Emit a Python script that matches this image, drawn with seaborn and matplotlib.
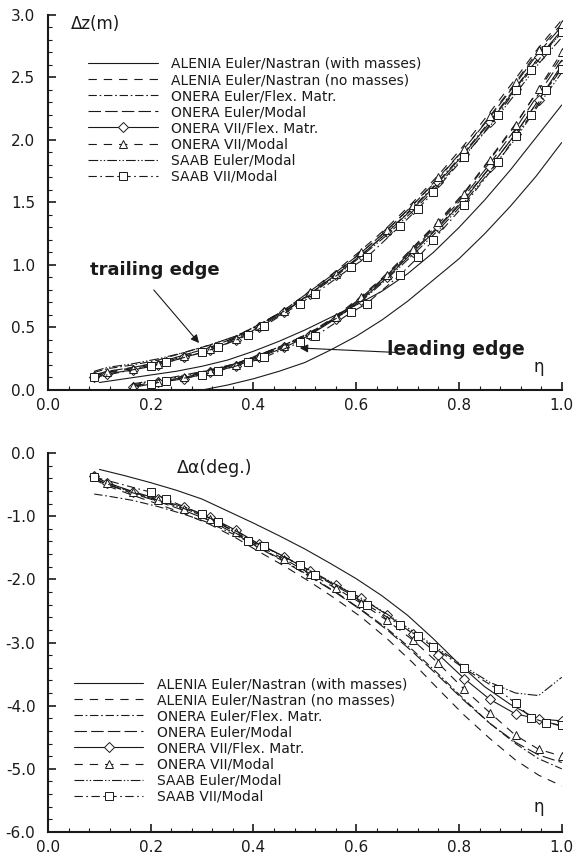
import matplotlib
matplotlib.use("Agg")
import matplotlib.pyplot as plt
from matplotlib.ticker import MultipleLocator, FormatStrFormatter
import seaborn as sns

sns.set_theme(style="ticks", rc={"text.color": "k", "axes.edgecolor": "k", "axes.labelcolor": "k",
                                 "xtick.color": "k", "ytick.color": "k"})
plt.rcParams['font.family'] = ['DejaVu Sans']
plt.rcParams['axes.unicode_minus'] = False
plt.rcParams['lines.scale_dashes'] = False

# ---- data ----
labels = ["ALENIA Euler/Nastran (with masses)", "ALENIA Euler/Nastran (no masses)",
          "ONERA Euler/Flex. Matr.", "ONERA Euler/Modal", "ONERA VII/Flex. Matr.",
          "ONERA VII/Modal", "SAAB Euler/Modal", "SAAB VII/Modal"]

eta = [0.09, 0.115, 0.165, 0.215, 0.265, 0.315, 0.365, 0.41, 0.46, 0.51,
       0.56, 0.61, 0.66, 0.71, 0.76, 0.81, 0.86, 0.91, 0.955, 1.0]
eta_le = eta[2:]
eta_sq = [0.09, 0.2, 0.23, 0.3, 0.33, 0.39, 0.42, 0.49, 0.52, 0.59,
          0.62, 0.685, 0.72, 0.75, 0.81, 0.875, 0.91, 0.94, 0.97, 1.0]
eta_sq_le = eta_sq[1:]
eta_al = [0.1, 0.15, 0.2, 0.25, 0.3, 0.35, 0.4, 0.45, 0.5, 0.55,
          0.6, 0.65, 0.7, 0.75, 0.8, 0.85, 0.9, 0.95, 1.0]
eta_al_le = eta_al[4:]

# trailing edge deflection dz (m)
dz_te_alenia_m = [0.06, 0.09, 0.12, 0.15, 0.19, 0.24, 0.31, 0.39, 0.48, 0.58, 0.68, 0.79, 0.93, 1.10, 1.30, 1.52, 1.76, 2.02, 2.28]
dz_te_alenia_nm = [0.11, 0.14, 0.18, 0.22, 0.28, 0.34, 0.42, 0.52, 0.64, 0.79, 0.95, 1.12, 1.30, 1.50, 1.72, 1.96, 2.22, 2.49, 2.74, 2.96]
dz_te_onera_ef = [0.14, 0.17, 0.20, 0.24, 0.30, 0.36, 0.43, 0.52, 0.63, 0.77, 0.92, 1.08, 1.26, 1.46, 1.67, 1.90, 2.15, 2.42, 2.66, 2.86]
dz_te_onera_em = [0.12, 0.15, 0.18, 0.22, 0.28, 0.34, 0.42, 0.52, 0.64, 0.79, 0.94, 1.10, 1.28, 1.48, 1.69, 1.93, 2.18, 2.45, 2.70, 2.91]
dz_te_onera_vf = [0.10, 0.13, 0.16, 0.20, 0.26, 0.32, 0.40, 0.50, 0.62, 0.77, 0.92, 1.08, 1.26, 1.45, 1.66, 1.89, 2.14, 2.41, 2.66, 2.88]
dz_te_onera_vm = [0.12, 0.14, 0.17, 0.21, 0.27, 0.33, 0.41, 0.51, 0.63, 0.78, 0.93, 1.10, 1.28, 1.48, 1.70, 1.93, 2.19, 2.46, 2.72, 2.93]
dz_te_saab_em = [0.15, 0.18, 0.21, 0.25, 0.30, 0.36, 0.43, 0.52, 0.63, 0.76, 0.91, 1.07, 1.24, 1.43, 1.64, 1.87, 2.11, 2.37, 2.61, 2.82]
dz_te_saab_vm = [0.10, 0.19, 0.22, 0.30, 0.34, 0.44, 0.51, 0.69, 0.77, 0.98, 1.06, 1.31, 1.45, 1.58, 1.86, 2.20, 2.40, 2.56, 2.72, 2.86]

# leading edge deflection dz (m)
dz_le_alenia_m = [0.0, 0.04, 0.09, 0.15, 0.22, 0.32, 0.43, 0.56, 0.71, 0.88, 1.05, 1.25, 1.47, 1.71, 1.98]
dz_le_alenia_nm = [0.03, 0.07, 0.11, 0.15, 0.21, 0.28, 0.36, 0.46, 0.59, 0.75, 0.93, 1.14, 1.35, 1.58, 1.85, 2.13, 2.40, 2.67]
dz_le_onera_ef = [0.04, 0.08, 0.11, 0.16, 0.21, 0.28, 0.36, 0.46, 0.58, 0.73, 0.91, 1.11, 1.31, 1.53, 1.78, 2.05, 2.32, 2.58]
dz_le_onera_em = [0.03, 0.07, 0.10, 0.15, 0.20, 0.27, 0.35, 0.45, 0.58, 0.74, 0.92, 1.12, 1.33, 1.55, 1.81, 2.09, 2.37, 2.64]
dz_le_onera_vf = [0.02, 0.06, 0.09, 0.14, 0.19, 0.26, 0.34, 0.44, 0.57, 0.72, 0.90, 1.10, 1.30, 1.52, 1.78, 2.05, 2.32, 2.60]
dz_le_onera_vm = [0.03, 0.06, 0.10, 0.15, 0.20, 0.27, 0.35, 0.45, 0.58, 0.74, 0.92, 1.13, 1.34, 1.57, 1.84, 2.12, 2.41, 2.70]
dz_le_saab_em = [0.05, 0.08, 0.12, 0.16, 0.21, 0.28, 0.36, 0.45, 0.57, 0.71, 0.89, 1.08, 1.28, 1.50, 1.75, 2.01, 2.28, 2.54]
dz_le_saab_vm = [0.05, 0.07, 0.12, 0.15, 0.22, 0.26, 0.38, 0.43, 0.62, 0.69, 0.92, 1.06, 1.20, 1.48, 1.82, 2.03, 2.20, 2.40, 2.57]

# twist da (deg.)
da_alenia_m = [-0.26, -0.36, -0.47, -0.59, -0.73, -0.92, -1.11, -1.31, -1.52, -1.75, -1.99, -2.26, -2.57, -2.94, -3.34, -3.70, -3.98, -4.20, -4.33]
da_alenia_nm = [-0.42, -0.52, -0.67, -0.81, -0.96, -1.13, -1.34, -1.56, -1.79, -2.04, -2.31, -2.60, -2.94, -3.32, -3.74, -4.15, -4.52, -4.86, -5.10, -5.27]
da_onera_ef = [-0.65, -0.68, -0.75, -0.85, -0.97, -1.11, -1.30, -1.49, -1.71, -1.95, -2.20, -2.48, -2.78, -3.12, -3.50, -3.90, -4.28, -4.60, -4.84, -5.00]
da_onera_em = [-0.40, -0.50, -0.64, -0.77, -0.91, -1.07, -1.28, -1.50, -1.72, -1.96, -2.21, -2.49, -2.80, -3.15, -3.53, -3.92, -4.28, -4.58, -4.78, -4.90]
da_onera_vf = [-0.37, -0.47, -0.61, -0.73, -0.86, -1.01, -1.22, -1.44, -1.64, -1.87, -2.09, -2.30, -2.56, -2.86, -3.19, -3.57, -3.90, -4.13, -4.21, -4.24]
da_onera_vm = [-0.37, -0.47, -0.62, -0.75, -0.88, -1.04, -1.25, -1.47, -1.68, -1.91, -2.14, -2.38, -2.65, -2.96, -3.33, -3.74, -4.11, -4.47, -4.69, -4.80]
da_saab_em = [-0.40, -0.49, -0.63, -0.75, -0.88, -1.03, -1.23, -1.44, -1.64, -1.86, -2.08, -2.30, -2.55, -2.82, -3.10, -3.38, -3.63, -3.80, -3.84, -3.55]
da_saab_vm = [-0.38, -0.62, -0.73, -0.97, -1.09, -1.39, -1.48, -1.78, -1.93, -2.24, -2.40, -2.72, -2.90, -3.07, -3.41, -3.74, -3.96, -4.19, -4.27, -4.31]

# line styles per method (same order as labels)
styles = [
    dict(linestyle="-", marker=""),
    dict(linestyle=(0, (6, 5)), marker=""),
    dict(linestyle=(0, (6, 2, 1.2, 2)), marker=""),
    dict(linestyle=(0, (9, 3)), marker=""),
    dict(linestyle="-", marker="D", markersize=5),
    dict(linestyle=(0, (6, 5)), marker="^", markersize=6),
    dict(linestyle=(0, (7, 1.5, 1, 1.5, 1, 1.5)), marker=""),
    dict(linestyle=(0, (6, 2.5, 1.2, 2.5)), marker="s", markersize=5.5),
]


def draw(ax, x, y, st):
    sns.lineplot(x=x, y=y, ax=ax, color="k", lw=0.8, estimator=None, sort=False,
                 markerfacecolor="white", markeredgecolor="k", markeredgewidth=0.7, **st)
    return ax.lines[-1]


def style_axes(ax, ylo, yhi, ymaj, ymin):
    ax.set_xlim(0, 1)
    ax.set_ylim(ylo, yhi)
    sns.despine(ax=ax)
    for s in ["left", "bottom"]:
        ax.spines[s].set_linewidth(1.5)
    ax.xaxis.set_major_locator(MultipleLocator(0.2))
    ax.xaxis.set_minor_locator(MultipleLocator(0.04))
    ax.yaxis.set_major_locator(MultipleLocator(ymaj))
    ax.yaxis.set_minor_locator(MultipleLocator(ymin))
    ax.xaxis.set_major_formatter(FormatStrFormatter("%.1f"))
    ax.yaxis.set_major_formatter(FormatStrFormatter("%.1f"))
    ax.tick_params(which="major", direction="in", length=6, width=1.2, labelsize=11)
    ax.tick_params(axis="x", which="major", pad=6)
    ax.tick_params(axis="y", which="major", pad=9)
    ax.tick_params(which="minor", direction="in", length=3, width=0.8)
    ax.set_xlabel("")
    ax.set_ylabel("")


fig = plt.figure(figsize=(5.76, 8.56), dpi=100)
ax1 = fig.add_axes([0.0833, 0.5444, 0.892, 0.4381])
ax2 = fig.add_axes([0.0833, 0.028, 0.892, 0.4428])

leg_kw = dict(loc="upper left", frameon=False, fontsize=10, handlelength=5.0,
              handletextpad=1.0, labelspacing=0.15, numpoints=1, borderpad=0, borderaxespad=0)

# ---- top panel: dz ----
te_sets = [(eta_al, dz_te_alenia_m), (eta, dz_te_alenia_nm), (eta, dz_te_onera_ef), (eta, dz_te_onera_em),
           (eta, dz_te_onera_vf), (eta, dz_te_onera_vm), (eta, dz_te_saab_em), (eta_sq, dz_te_saab_vm)]
le_sets = [(eta_al_le, dz_le_alenia_m), (eta_le, dz_le_alenia_nm), (eta_le, dz_le_onera_ef), (eta_le, dz_le_onera_em),
           (eta_le, dz_le_onera_vf), (eta_le, dz_le_onera_vm), (eta_le, dz_le_saab_em), (eta_sq_le, dz_le_saab_vm)]
handles1 = []
for (xt, yt), (xl, yl), st in zip(te_sets, le_sets, styles):
    handles1.append(draw(ax1, xt, yt, st))
    draw(ax1, xl, yl, st)
style_axes(ax1, 0, 3, 0.5, 0.1)

ax1.legend(handles1, labels, bbox_to_anchor=(0.078, 0.888), **leg_kw)
ax1.text(0.045, 2.93, "Δz(m)", fontsize=12, va="center", ha="left")
ax1.text(0.955, 0.18, "η", fontsize=12, va="center", ha="center")
ax1.text(0.082, 0.96, "trailing edge", fontsize=13, fontweight="bold", va="center", ha="left")
ax1.annotate("", xy=(0.294, 0.376), xytext=(0.206, 0.80),
             arrowprops=dict(arrowstyle="-|>", color="k", lw=0.8, mutation_scale=12, shrinkA=0, shrinkB=0))
ax1.text(0.66, 0.32, "leading edge", fontsize=13.5, fontweight="bold", va="center", ha="left")
ax1.annotate("", xy=(0.49, 0.336), xytext=(0.68, 0.30),
             arrowprops=dict(arrowstyle="-|>", color="k", lw=0.8, mutation_scale=12, shrinkA=0, shrinkB=0))

# ---- bottom panel: d alpha ----
da_sets = [(eta_al, da_alenia_m), (eta, da_alenia_nm), (eta, da_onera_ef), (eta, da_onera_em),
           (eta, da_onera_vf), (eta, da_onera_vm), (eta, da_saab_em), (eta_sq, da_saab_vm)]
handles2 = []
for (x, y), st in zip(da_sets, styles):
    handles2.append(draw(ax2, x, y, st))
style_axes(ax2, -6, 0, 1.0, 0.2)

ax2.legend(handles2, labels, bbox_to_anchor=(0.0506, 0.409), **leg_kw)
ax2.text(0.25, -0.24, "Δα(deg.)", fontsize=12.5, va="center", ha="left")
ax2.text(0.955, -5.6, "η", fontsize=12, va="center", ha="center")

fig.savefig("out.png", dpi=100)
